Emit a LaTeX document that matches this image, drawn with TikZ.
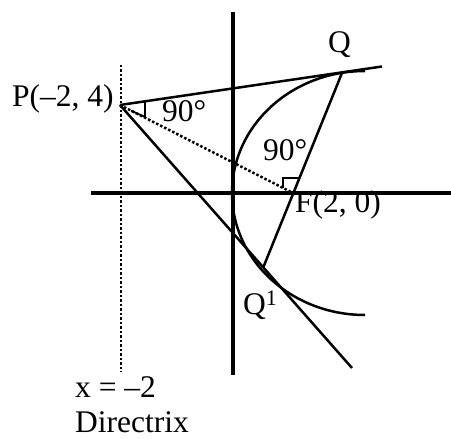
\documentclass[tikz,border=0pt]{standalone}
\usepackage{fontspec}
\setmainfont{Liberation Serif}
\begin{document}
\begin{tikzpicture}[x=1bp,y=-1bp,
  lbl/.style={inner sep=0pt,anchor=base west,font=\fontsize{31.5bp}{37bp}\selectfont},
  yaxisline/.style={line width=4bp},
  xaxisline/.style={line width=3.4bp},
  geo/.style={line width=2.5bp},
  dots/.style={line width=2.5bp,dash pattern=on 2.5bp off 2bp},
  rtmark/.style={line width=1.8bp}]
\useasboundingbox (0,0) rectangle (451,439);
% points
\coordinate (yT) at (233,12);   \coordinate (yB) at (233,375);
\coordinate (xL) at (91,193);   \coordinate (xR) at (451,193);
\coordinate (dT) at (121,65);   \coordinate (dB) at (121,372);
\coordinate (P) at (120,105);
\coordinate (Q) at (342,73);
\coordinate (Qe) at (382,66.5);
\coordinate (Q1) at (263,268);
\coordinate (Q1e) at (352,368);
\coordinate (F) at (293,193);
\coordinate (Ptop) at (365,71);
% axes and directrix
\draw[yaxisline] (yT) -- (yB);
\draw[xaxisline] (xL) -- (xR);
\draw[dots] (dT) -- (dB);
% parabola
\draw[geo] (Ptop) arc[start angle=-90,end angle=-270,x radius=133,y radius=122];
% tangents, chord, PF
\draw[geo] (P) -- (Qe);
\draw[geo] (P) -- (Q1e);
\draw[geo] (Q) -- (Q1);
\draw[dots] (P) -- (F);
% right-angle marks
\coordinate (pa) at (145,101.7); \coordinate (pb) at (145,117); \coordinate (pc) at (131,110.6);
\draw[rtmark] (pa) -- (pb) -- (pc);
\coordinate (fa) at (283,188); \coordinate (fb) at (283,178); \coordinate (fc) at (299,178);
\draw[rtmark] (fa) -- (fb) -- (fc);
% labels
\node[lbl] (Plbl) at (12,107) {P(–2, 4)};
\node[lbl] (angP) at (162,122) {90°};
\node[lbl] (angF) at (263,161) {90°};
\node[lbl] (Qlbl) at (328,53) {Q};
\node[lbl] (Flbl) at (295,213) {F(2, 0)};
\node[lbl] (Q1lbl) at (243,314) {Q\textsuperscript{1}};
\node[lbl] (xlbl) at (75,397) {x = –2};
\node[lbl] (dlbl) at (75,432) {Directrix};
\end{tikzpicture}
\end{document}
